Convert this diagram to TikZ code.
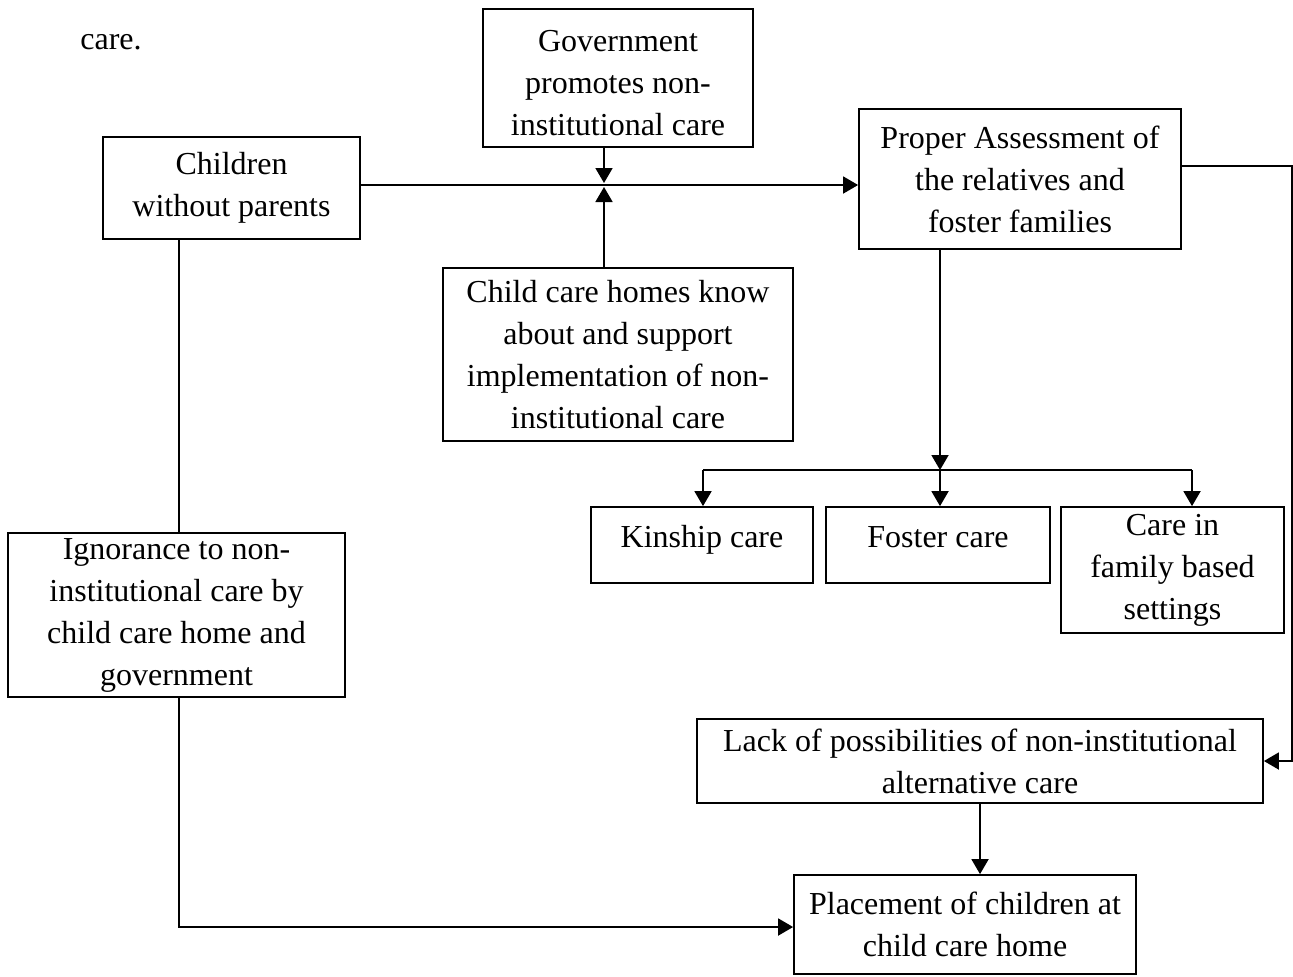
\documentclass[tikz,border=0pt]{standalone}
\usepackage{fontspec}
\setmainfont{Liberation Serif}
\usetikzlibrary{arrows.meta}
\begin{document}
\begin{tikzpicture}[x=0.5pt,y=-0.5pt,
  box/.style={draw,line width=0.9pt,inner sep=0pt,align=center,
    font=\fontsize{16}{21}\selectfont},
  conn/.style={line width=0.9pt},
  arr/.style={conn,-{Triangle[length=7.5pt,width=8.5pt]}}]
\useasboundingbox (0,0) rectangle (1293,976);
\node[font=\fontsize{16}{21}\selectfont] (caretxt) at (111,42) {care.};
\node[box,minimum width=128.5pt,minimum height=51pt] (children) at (231.5,188) {Children\\without parents};
\node[box,minimum width=135pt,minimum height=69pt] (gov) at (618,78) {\rule{0pt}{16pt}Government\\promotes non-\\institutional care};
\node[box,minimum width=161pt,minimum height=70pt] (proper) at (1020,179) {Proper Assessment of\\the relatives and\\foster families};
\node[box,minimum width=175pt,minimum height=86.5pt] (homes) at (618,354.5) {Child care homes know\\about and support\\implementation of non-\\institutional care};
\node[box,minimum width=111pt,minimum height=38pt,text height=12pt,text depth=10pt] (kin) at (702,545) {Kinship care};
\node[box,minimum width=112pt,minimum height=38pt,text height=12pt,text depth=10pt] (foster) at (938,545) {Foster care};
\node[box,minimum width=111.5pt,minimum height=63pt] (family) at (1172.5,570) {Care in\\family based\\settings};
\node[box,minimum width=168.5pt,minimum height=82pt] (ignor) at (176.5,615) {Ignorance to non-\\institutional care by\\child care home and\\government};
\node[box,minimum width=283pt,minimum height=42pt] (lack) at (980,761) {Lack of possibilities of non-institutional\\alternative care};
\node[box,minimum width=171pt,minimum height=49.5pt] (place) at (965,924.5) {Placement of children at\\child care home};
% junction on main line
\coordinate (J) at (604,185);
\draw[arr] (children.east |- J) -- (proper.west |- J);
\draw[arr] (gov.south -| J) -- ([yshift=1pt]J);
\draw[arr] (homes.north -| J) -- ([yshift=-1pt]J);
% branch to care types
\coordinate (B) at (940,470);
\coordinate (B1) at (703,470);
\coordinate (B3) at (1192,470);
\draw[arr] (proper.south -| B) -- (B);
\draw[conn] (B1) -- (B3);
\draw[arr] (B1) -- (kin.north -| B1);
\draw[arr] (B) -- (foster.north -| B);
\draw[arr] (B3) -- (family.north -| B3);
% right connector
\coordinate (R1) at (1292,166);
\draw[arr] (proper.east |- R1) -- (R1) -- (R1 |- lack.east) -- (lack.east);
% lack to placement
\draw[arr] (lack.south) -- (lack.south |- place.north);
% left connector
\coordinate (L1) at (179,927);
\draw[conn] (children.south -| L1) -- (ignor.north -| L1);
\draw[arr] (ignor.south -| L1) -- (L1) -- (L1 -| place.west);
\end{tikzpicture}
\end{document}
